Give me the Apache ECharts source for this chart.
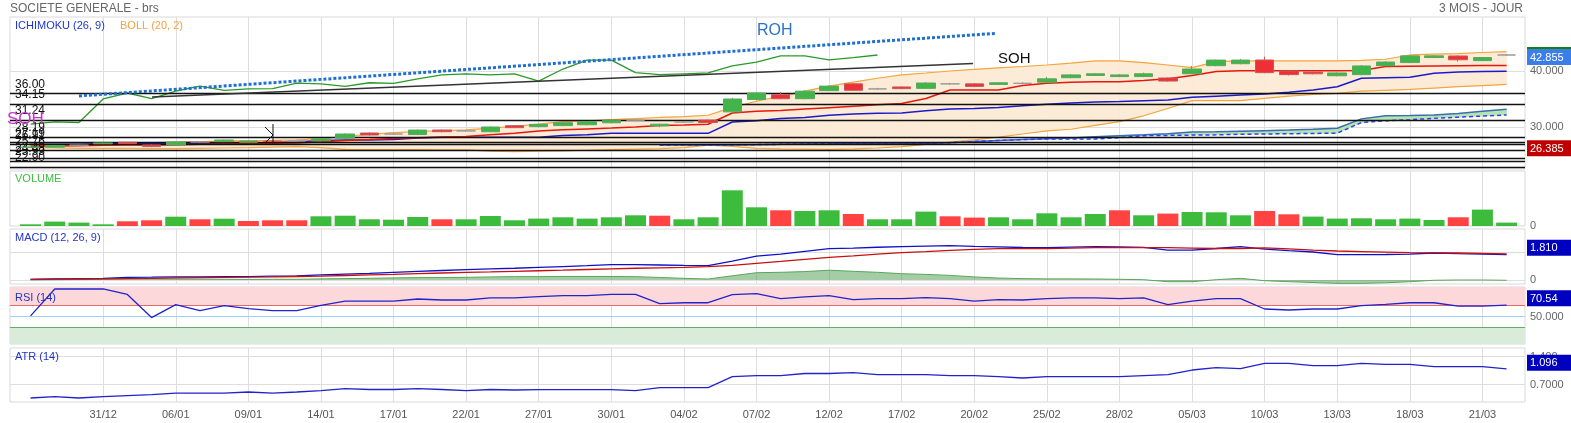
<!DOCTYPE html>
<html><head><meta charset="utf-8">
<script src="https://cdn.jsdelivr.net/npm/echarts@6/dist/echarts.min.js"></script>
<style>html,body{margin:0;padding:0;background:#fff}#c{width:1571px;height:423px}</style>
</head><body><div id="c"></div>
<script>
const FONT = "'Liberation Sans', Arial, sans-serif";
const dates = ['24/12','27/12','30/12','31/12','02/01','03/01','06/01','07/01','08/01','09/01','10/01','13/01','14/01','15/01','16/01','17/01','20/01','21/01','22/01','23/01','24/01','27/01','28/01','29/01','30/01','31/01','03/02','04/02','05/02','06/02','07/02','10/02','11/02','12/02','13/02','14/02','17/02','18/02','19/02','20/02','21/02','24/02','25/02','26/02','27/02','28/02','03/03','04/03','05/03','06/03','07/03','10/03','11/03','12/03','13/03','14/03','17/03','18/03','19/03','20/03','21/03','24/03'];
const xTickIdx = [3,6,9,12,15,18,21,24,27,30,33,36,39,42,45,48,51,54,57,60];

const open  = [26.35,26.4,26.75,27.0,27.27,26.8,26.8,27.32,27.38,27.27, 27.5,27.5,27.55,28.0,28.93,28.75,28.65,29.46,29.3,29.15, 30.23,30.05,30.25,30.4,30.75,31.2,30.2,30.9,31.2,32.7, 34.9,35.77,35.05,36.5,37.7,36.8,37.15,36.9,37.7,37.7, 37.6,37.8,38.0,38.8,39.2,39.0,39.0,38.75,39.5,40.95, 41.3,41.96,40.0,39.8,39.15,39.35,40.95,41.5,42.4,42.68, 41.85,42.855];
const close = [26.45,26.7,26.75,27.15,27.03,26.5,27.32,27.32,27.68,27.5, 27.4,27.5,27.9,28.75,28.57,28.75,29.45,29.16,29.3,30.0, 29.88,30.48,30.77,30.95,31.2,31.2,30.5,30.9,30.8,35.0, 36.07,35.05,36.4,37.3,36.55,36.8,36.85,37.85,37.7,37.25, 37.9,37.8,38.6,39.3,39.5,39.3,39.5,38.2,40.35,41.95, 41.95,39.7,39.35,39.5,39.65,40.9,41.6,42.7,42.7,42.0, 42.4,42.855];
const high  = [26.5,26.8,26.85,27.25,27.35,26.9,27.4,27.45,27.75,27.6, 27.6,27.6,28.0,28.85,29.05,28.9,29.55,29.55,29.45,30.1, 30.35,30.6,30.85,31.05,31.3,31.35,30.6,31.05,31.35,35.2, 36.15,36.25,36.55,37.4,37.85,37.0,37.25,38.0,37.9,37.8, 38.0,38.05,38.95,39.45,39.6,39.45,39.7,38.85,40.9,42.05, 42.15,42.55,40.1,39.9,39.75,41.05,41.75,42.8,42.85,42.8, 42.45,43.0];
const low   = [26.25,26.3,26.65,26.95,26.95,26.4,26.75,27.2,27.3,27.2, 27.3,27.4,27.45,27.9,28.45,28.6,28.55,29.05,29.15,29.05, 29.8,29.95,30.15,30.3,30.65,31.05,29.95,30.75,30.7,32.6, 34.75,34.95,34.95,36.4,36.45,36.65,36.75,36.8,37.55,37.1, 37.5,37.65,37.9,38.7,39.1,38.9,38.9,38.1,39.4,40.85, 41.2,39.6,39.2,39.4,39.05,39.25,40.85,41.4,42.3,41.7, 41.75,42.7];

const volume = [0.85,2.2,1.7,0.85,2.35,2.85,4.65,3.35,3.65,2.5, 2.85,2.85,4.85,5.15,3.35,3.15,4.5,3.35,3.35,5.0, 2.85,3.7,4.35,3.7,4.35,5.35,5.15,3.35,4.35,17.85, 9.35,7.85,7.5,7.85,6.0,3.35,3.35,7.2,4.85,4.2, 4.35,3.35,6.35,4.35,6.0,7.85,5.35,6.2,7.0,6.85, 5.35,7.5,5.85,4.7,3.7,3.85,3.35,3.7,3.0,4.35, 8.2,1.7];
const volumeUp = [1,1,1,1,0,0,1,0,1,0, 0,0,1,1,1,1,1,0,1,1, 1,1,1,1,1,1,0,1,1,1, 1,0,1,1,0,1,1,1,0,0, 1,1,1,1,1,0,1,0,1,1, 1,0,0,1,1,1,1,1,1,0, 1,1];

const tenkan = [26.55,26.6,26.65,26.75,26.8,26.8,26.85,26.9,27.0,27.05, 27.1,27.15,27.35,27.6,27.75,27.95,28.1,28.2,28.3,28.6, 28.9,29.3,29.5,29.65,29.8,30.0,30.25,30.35,30.5,32.5, 32.8,32.95,33.2,33.45,33.7,33.95,34.2,35.1,36.6,36.6, 36.6,37.4,37.8,38.0,38.1,38.1,38.3,38.6,39.2,39.9, 40.05,40.05,40.05,40.05,40.05,40.1,40.8,40.85,40.9,40.95, 41.0,41.0];
const kijun = [26.9,26.9,26.9,27.0,27.1,27.1,27.1,27.1,27.1,27.1, 27.2,27.3,27.6,27.7,27.7,27.75,28.05,28.15,28.15,28.15, 28.15,28.15,28.5,28.6,28.87,28.87,28.87,28.87,28.87,30.9, 31.1,31.5,31.7,32.1,32.3,32.45,32.5,32.9,33.2,33.3, 33.5,33.8,34.05,34.3,34.45,34.55,34.7,34.8,35.3,35.5, 35.7,35.9,36.2,36.6,37.2,38.7,38.8,38.9,39.6,39.8, 39.9,39.95];
// chikou span: plotted from index 0
const chikou = [30.5,30.9,30.8,35.0,36.07,35.05,36.4,37.3,36.55,36.8, 36.85,37.85,37.7,37.25,37.9,37.8,38.6,39.3,39.5,39.3, 39.5,38.2,40.35,41.95,41.95,39.7,39.35,39.5,39.65,40.9, 41.6,42.7,42.7,42.0,42.4,42.855];
// senkou spans: plotted from index 26
const senkouStart = 26;
const senkouA = [26.8,26.8,26.8,26.8,26.85,26.9,26.95,27.0,27.1,27.1, 27.1,27.1,27.2,27.4,27.6,27.75,27.9,28.05,28.25,28.45, 28.6,28.8,29.1,29.15,29.25,29.35,29.45,29.6,29.77,31.45, 32.0,32.05,32.15,32.4,32.8,33.15];
const senkouB = [26.8,26.8,26.8,26.8,26.85,26.9,26.95,27.0,27.1,27.1, 27.1,27.1,27.2,27.4,27.6,27.75,27.86,27.86,27.86,28.1, 28.45,28.5,28.55,28.6,28.7,28.75,28.8,28.85,28.9,30.8, 31.1,31.3,31.55,31.75,31.95,32.14];

const bollUpper = [26.6,26.75,26.85,27.0,27.15,27.2,27.3,27.4,27.5,27.55, 27.6,27.7,27.95,28.3,28.7,29.0,29.2,29.35,29.5,29.8, 30.1,30.5,30.95,31.1,31.3,31.5,31.7,31.85,32.1,33.5, 34.6,35.5,36.4,37.3,38.0,38.7,39.3,39.64,40.0,40.3, 40.55,40.8,41.07,41.4,41.8,41.8,41.5,41.07,40.6,41.66, 41.8,41.8,41.8,41.8,41.8,41.9,42.1,42.86,43.0,43.1, 43.3,43.45];
const bollLower = [26.3,26.25,26.2,26.2,26.2,26.15,26.15,26.2,26.25,26.3, 26.4,26.5,26.3,26.0,25.95,25.95,25.95,25.9,25.9,25.7, 25.6,25.7,25.75,25.85,25.95,26.05,26.15,26.3,26.75,26.55, 26.2,26.1,26.05,26.0,26.1,26.25,26.5,26.9,27.3,27.7, 28.2,28.75,29.3,29.6,30.3,30.95,32.0,33.3,34.7,34.7, 34.7,35.1,35.5,35.8,36.0,36.4,36.55,36.7,36.95,37.2, 37.4,37.6];

const macd = [0.05,0.08,0.1,0.12,0.19,0.2,0.22,0.23,0.24,0.24, 0.27,0.3,0.36,0.42,0.48,0.55,0.62,0.68,0.74,0.8, 0.84,0.9,0.96,1.02,1.1,1.1,1.07,1.04,1.02,1.35, 1.71,1.85,2.05,2.24,2.28,2.34,2.38,2.42,2.45,2.4, 2.36,2.32,2.31,2.35,2.38,2.36,2.33,2.14,2.14,2.25, 2.38,2.21,2.1,2.0,1.81,1.81,1.82,1.85,1.93,1.88, 1.85,1.81];
const signal = [0.05,0.06,0.07,0.08,0.1,0.12,0.15,0.17,0.19,0.2, 0.22,0.25,0.28,0.32,0.36,0.4,0.45,0.5,0.55,0.58, 0.62,0.66,0.7,0.75,0.8,0.84,0.87,0.9,0.95,1.05, 1.19,1.33,1.48,1.62,1.73,1.85,1.95,2.03,2.12,2.19, 2.24,2.24,2.24,2.27,2.31,2.31,2.31,2.31,2.28,2.25, 2.25,2.29,2.22,2.14,2.07,2.03,1.99,1.95,1.94,1.93, 1.9,1.86];
const hist = [0,0.02,0.03,0.04,0.09,0.08,0.07,0.06,0.05,0.04, 0.05,0.05,0.08,0.1,0.12,0.15,0.17,0.18,0.19,0.22, 0.24,0.24,0.25,0.25,0.25,0.24,0.18,0.12,0.07,0.3, 0.52,0.55,0.6,0.7,0.62,0.55,0.45,0.4,0.33,0.22, 0.14,0.1,0.08,0.08,0.07,0.05,0.02,-0.12,-0.12,0.02, 0.12,-0.05,-0.12,-0.18,-0.24,-0.24,-0.2,-0.12,-0.02,0, 0,-0.02];
const rsi = [51,100,100,100,90,48,71.5,60.6,69.7,64.2, 60.6,60.6,70.3,78,78,78,81.8,80,80,84, 84,86,87.8,87.8,90.3,90.3,73.3,75,75,89.7, 91.5,82.4,85.5,87.8,80.5,82.4,82.4,84.2,82.4,78, 80.5,80,82.4,84,84,82.4,84,71.5,78,82.4, 82.4,63.6,61.8,63.6,63.6,69.7,72,75,75,69, 69,70.54];
const atr = [0.367,0.4,0.367,0.4,0.425,0.45,0.49,0.49,0.49,0.517, 0.49,0.517,0.55,0.6,0.58,0.58,0.6,0.58,0.55,0.58, 0.567,0.575,0.575,0.575,0.575,0.55,0.625,0.625,0.625,0.9, 0.925,0.925,0.98,0.98,1.0,0.95,0.95,0.95,0.925,0.925, 0.9,0.867,0.9,0.9,0.9,0.9,0.925,0.95,1.067,1.125, 1.1,1.235,1.235,1.175,1.175,1.235,1.21,1.21,1.15,1.15, 1.15,1.096];

const levels = [36.00,34.15,31.24,28.19,27.19,26.91,25.76,24.48,23.93,22.90];
const markedLow = 26.385;
const rohX = [2, 39.93], rohY = [35.55, 46.73];
const sohX = [5.02, 38.95], sohY = [35.36, 41.34];
const priceTicks = [30, 40], macdTicks = [0, 2], rsiTicks = [50], atrTicks = [0.7, 1.4], volTicks = [0];

const pts = (arr, start) => arr.map((v, i) => [i + (start || 0), v]);
const XMIN = -0.85, XMAX = 61.76;
const grids = [
  {top:17, height:152}, {top:171, height:55}, {top:229, height:55}, {top:287, height:57}, {top:348, height:54}
].map(g => Object.assign({left:10, right:46, show:true, borderColor:'#d9d9d9', borderWidth:1, backgroundColor:'transparent'}, g));

function xAx(g, labels) {
  return {type:'value', gridIndex:g, min:XMIN, max:XMAX,
    axisLine:{show:false}, axisTick:{show:false, customValues:xTickIdx},
    axisLabel:{show:labels, customValues:xTickIdx, formatter:v => dates[Math.round(v)], color:'#555', fontSize:11, fontFamily:FONT, margin:7},
    splitLine:{show:true, lineStyle:{color:'#dedede', width:1}}};
}
function yAx(g, min, max, ticks, fmt, split) {
  return {type:'value', gridIndex:g, position:'right', min, max,
    axisLine:{show:false}, axisTick:{show:false, customValues:ticks},
    axisLabel:{show:true, customValues:ticks, formatter:fmt, color:'#666', fontSize:11, fontFamily:FONT, margin:5},
    splitLine:{show:split, lineStyle:{color:'#dedede', width:1}}};
}
const line = (name, data, color, extra) => Object.assign({type:'line', name, data, xAxisIndex:0, yAxisIndex:0, symbol:'none', silent:true,
  lineStyle:{color, width:1.3}, itemStyle:{color}, z:4}, extra || {});

// filled band between two read series, drawn segment by segment
function band(name, upper, lower, start, color, z) {
  const data = [];
  for (let i = 0; i + 1 < upper.length; i++) data.push([i + start, upper[i], lower[i], upper[i + 1], lower[i + 1]]);
  return {type:'custom', name, xAxisIndex:0, yAxisIndex:0, silent:true, z, data,
    encode:{x:0, y:[1, 2]},
    renderItem:(params, api) => {
      const x0 = api.value(0), x1 = x0 + 1;
      const p = [api.coord([x0, api.value(1)]), api.coord([x1, api.value(3)]), api.coord([x1, api.value(4)]), api.coord([x0, api.value(2)])];
      return {type:'polygon', shape:{points:p}, style:{fill:color, stroke:color, lineWidth:0.6}};
    }};
}

const RSI_MAX = 103.6;
const option = {
  animation:false,
  grid: grids,
  xAxis: [xAx(0,false), xAx(1,false), xAx(2,false), xAx(3,false), xAx(4,true)],
  yAxis: [
    yAx(0, 22.5, 49.64, priceTicks, v => v.toFixed(3), true),
    yAx(1, 0, 27.5, volTicks, v => '0', false),
    yAx(2, -0.286, 3.643, macdTicks, v => String(v), true),
    yAx(3, 0, RSI_MAX, rsiTicks, v => v.toFixed(3), false),
    yAx(4, 0.2675, 1.6175, atrTicks, v => v === 1.4 ? '1.400' : '0.7000', true)
  ],
  series: [
    band('bollFill', bollUpper, bollLower, 0, '#fcebd7', 1),
    band('kumoFill', senkouA, senkouB, senkouStart, '#b4e5ae', 2),
    line('levels', [], '#111', {z:3, markLine:{silent:true, symbol:'none', animation:false,
      lineStyle:{color:'#111', width:1.3, type:'solid'},
      label:{show:true, position:'insideStartTop', formatter:'{b}', color:'#111', fontSize:12, fontFamily:FONT, distance:[5,3]},
      emphasis:{disabled:true},
      data: levels.map(v => ({yAxis:v, name:v.toFixed(2)}))}}),
    line('bollUp', pts(bollUpper), '#f5a53c', {lineStyle:{color:'#f5a53c', width:1.2}}),
    line('bollLow', pts(bollLower), '#f5a53c', {lineStyle:{color:'#f5a53c', width:1.2}}),
    line('senkouA', pts(senkouA, senkouStart), '#3b6cb4', {lineStyle:{color:'#3b6cb4', width:1.5}}),
    line('senkouB', pts(senkouB, senkouStart), '#3a3aff', {lineStyle:{color:'#3a3aff', width:1.5, type:[4,3]}}),
    line('kijun', pts(kijun), '#1a1acc', {lineStyle:{color:'#1a1acc', width:1.5}}),
    line('tenkan', pts(tenkan), '#e6170c', {lineStyle:{color:'#e6170c', width:1.5}}),
    line('chikou', pts(chikou), '#2a9a2a', {lineStyle:{color:'#2a9a2a', width:1.3}}),
    {type:'candlestick', name:'price', xAxisIndex:0, yAxisIndex:0, silent:true, z:5, barWidth:19,
      dimensions:['idx','open','close','lowest','highest'], encode:{x:0, y:[1,2,3,4]},
      data: open.map((o, i) => [i, o, close[i], low[i], high[i]]),
      itemStyle:{color:'#42b54a', color0:'#ee2f36', borderColor:'#5aa85e', borderColor0:'#c85a5a', borderColorDoji:'#999', borderWidth:1}},
    line('ROH', rohX.map((x, i) => [x, rohY[i]]), '#1f6fd1', {z:6, lineStyle:{color:'#1f6fd1', width:3, type:[3,2]}}),
    line('SOH', sohX.map((x, i) => [x, sohY[i]]), '#333', {z:6, lineStyle:{color:'#333', width:1.5}}),
    {type:'bar', name:'volume', xAxisIndex:1, yAxisIndex:1, barWidth:21, silent:true,
      data: volume.map((v, i) => ({value:[i, v], itemStyle:{color: volumeUp[i] ? '#3dbb3d' : '#ff4242'}}))},
    line('hist', pts(hist), '#3d963d', {xAxisIndex:2, yAxisIndex:2, lineStyle:{color:'#5aa65a', width:1}, areaStyle:{color:'rgba(40,135,40,0.6)'}}),
    line('macd', pts(macd), '#1010c8', {xAxisIndex:2, yAxisIndex:2, lineStyle:{color:'#1010c8', width:1.3}}),
    line('signal', pts(signal), '#c81010', {xAxisIndex:2, yAxisIndex:2, lineStyle:{color:'#c81010', width:1.3}}),
    line('rsi', pts(rsi), '#2222cc', {xAxisIndex:3, yAxisIndex:3, z:5, lineStyle:{color:'#2222cc', width:1.3},
      markArea:{silent:true, data:[[{yAxis:70, itemStyle:{color:'#fdd8da'}},{yAxis:RSI_MAX}],[{yAxis:0, itemStyle:{color:'#d9ebd9'}},{yAxis:30}]]},
      markLine:{silent:true, symbol:'none', label:{show:false}, emphasis:{disabled:true},
        data:[{yAxis:70, lineStyle:{color:'#e56b6b', width:1.2, type:'solid'}},{yAxis:50, lineStyle:{color:'#9dcfff', width:1.2, type:'solid'}},{yAxis:30, lineStyle:{color:'#6aa86a', width:1.2, type:'solid'}}]}}),
    line('atr', pts(atr), '#2222cc', {xAxisIndex:4, yAxisIndex:4, lineStyle:{color:'#2222cc', width:1.3}})
  ]
};
const chart = echarts.init(document.getElementById('c'), null, {renderer:'canvas'});
chart.setOption(option);

const T = (text, x, y, color, size, extra) => Object.assign({type:'text', x, y, silent:true, z:100,
  style:{text, fill:color, font:(size||11) + 'px ' + FONT}}, extra || {});
const py = (g, v) => chart.convertToPixel({gridIndex:g}, [61, v])[1];
const box = (text, yTop, color) => [
  {type:'rect', silent:true, z:100, shape:{x:1527, y:yTop, width:44, height:16}, style:{fill:color}},
  T(text, 1530, yTop + 3, '#fff', 11)
];
const last = close.length - 1;
const pTop = py(0, close[last]) - 6;
const graphics = [
  T('SOCIETE GENERALE - brs', 10, 3, '#666', 12),
  T('3 MOIS - JOUR', 1523, 3, '#666', 12, {style:{text:'3 MOIS - JOUR', fill:'#666', font:'12px ' + FONT, align:'right'}}),
  T('ICHIMOKU (26, 9)', 15, 20, '#1f35cf', 11),
  T('BOLL (20, 2)', 120, 20, '#f2a244', 11),
  T('VOLUME', 15, 173, '#3cbf3c', 11),
  T('MACD (12, 26, 9)', 15, 232, '#2433c4', 11),
  T('RSI (14)', 15, 292, '#2433c4', 11),
  T('ATR (14)', 15, 351, '#2433c4', 11),
  T('ROH', 757, 23, '#2a73c9', 16),
  T('SOH', 998, 51, '#111', 15),
  T('SOH', 7, 111, '#cc33cc', 17),
  {type:'polyline', silent:true, z:100, shape:{points:[[265,127],[273,135],[265,143]]}, style:{stroke:'#111', lineWidth:1, fill:null}},
  {type:'line', silent:true, z:100, shape:{x1:273, y1:124, x2:273, y2:143}, style:{stroke:'#111', lineWidth:1}},
  {type:'rect', silent:true, z:100, shape:{x:1527, y:pTop - 2, width:44, height:2}, style:{fill:'#138013'}},
  ...box(close[last].toFixed(3), pTop, '#3b7ee8'),
  ...box(markedLow.toFixed(3), py(0, markedLow) - 7, '#c00000'),
  ...box(macd[last].toFixed(3), py(2, macd[last]) - 15, '#0000c0'),
  ...box(rsi[last].toFixed(2), py(3, rsi[last]) - 15, '#0000c0'),
  ...box(atr[last].toFixed(3), py(4, atr[last]) - 14, '#0000c0')
];
chart.setOption({graphic: graphics});
</script>
</body></html>
